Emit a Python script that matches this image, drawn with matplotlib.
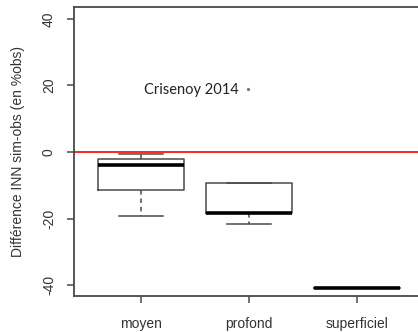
import numpy as np
import matplotlib
matplotlib.use('Agg')
import matplotlib.pyplot as plt

# INN difference (simulated - observed, % of obs) per soil layer
layers = ['moyen', 'profond', 'superficiel']
whis_hi = [-0.5, -9.4, -40.7]
q3 = [-2.2, -9.4, -40.7]
median = [-4.0, -18.4, -40.7]
q1 = [-11.5, -18.4, -40.7]
whis_lo = [-19.3, -21.6, -40.7]
yticks = [-40, -20, 0, 20, 40]

site_label = 'Crisenoy 2014'
site_pt = (1.99, 19.0)

stats = []
for i in range(len(layers)):
    stats.append(dict(label=layers[i], med=median[i], q1=q1[i], q3=q3[i],
                      whislo=whis_lo[i], whishi=whis_hi[i], fliers=[]))

plt.rcParams['font.family'] = ['Liberation Sans', 'DejaVu Sans']

fig = plt.figure(figsize=(4.18, 3.32), dpi=100)
ax = fig.add_axes([74/418, 36/332, 344/418, 289.5/332])

edge = '#4a4a4a'
ax.bxp(stats, positions=[1, 2, 3], widths=0.8, showfliers=False,
       boxprops=dict(color=edge, linewidth=1.1),
       whiskerprops=dict(color=edge, linewidth=1.1, linestyle=(0, (3, 2.5))),
       capprops=dict(color=edge, linewidth=1.1),
       medianprops=dict(color='black', linewidth=2.6, solid_capstyle='butt'),
       capwidths=0.4)

ax.axhline(0, color='#ff0000', linewidth=1.2)

ax.text(site_pt[0] - 0.08, site_pt[1] - 0.4, site_label, ha='right', va='center',
        fontsize=10.5, family=['Lato', 'DejaVu Sans'], color='#222222')
ax.plot(site_pt[0], site_pt[1], 'o', markersize=1.3, color='#777777')

ax.set_xlim(0.38, 3.565)
ax.set_ylim(-43.2, 43.7)
ax.set_yticks(yticks)
ax.set_yticklabels([str(v) for v in yticks], rotation=90, va='center')
ax.set_xticks([1, 2, 3])
ax.set_xticklabels(layers)

ax.tick_params(axis='both', colors=edge, labelcolor='#333333', labelsize=10,
               length=5, width=1.1)
ax.tick_params(axis='x', pad=10)
ax.tick_params(axis='y', pad=8)

for side in ['left', 'top', 'bottom']:
    ax.spines[side].set_color(edge)
    ax.spines[side].set_linewidth(1.3)
ax.spines['right'].set_visible(False)

ax.set_ylabel('Différence INN sim-obs (en %obs)', fontsize=10, color='#333333',
              labelpad=12)

fig.savefig('out.png', dpi=100)
